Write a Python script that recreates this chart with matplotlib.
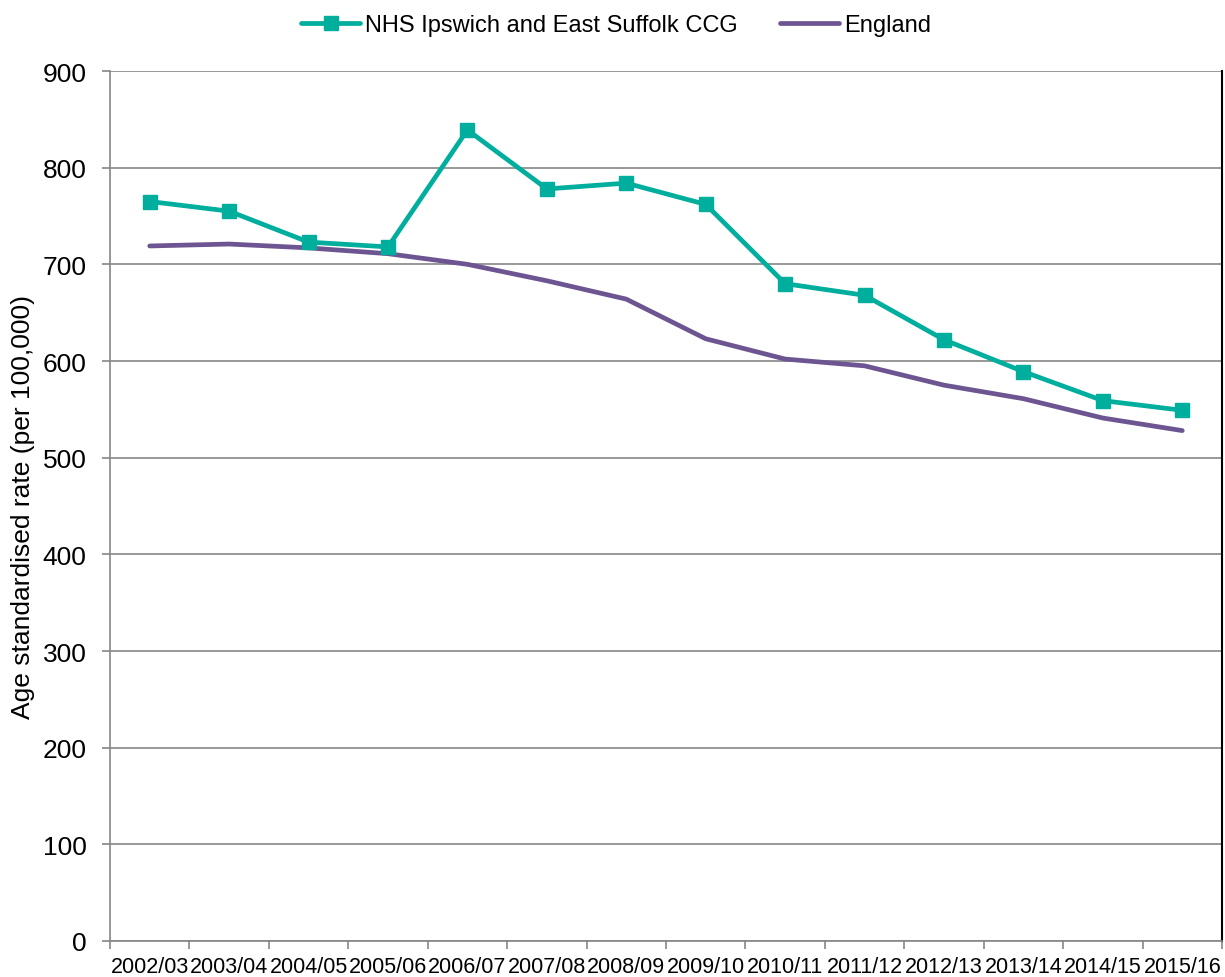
import numpy as np
import matplotlib.pyplot as plt

plt.rcParams['font.family'] = ['Liberation Sans', 'DejaVu Sans']

years = ['2002/03', '2003/04', '2004/05', '2005/06', '2006/07', '2007/08', '2008/09',
         '2009/10', '2010/11', '2011/12', '2012/13', '2013/14', '2014/15', '2015/16']
ccg = [765, 755, 723, 718, 839, 778, 784, 762, 680, 668, 622, 589, 559, 549]
england = [719, 721, 717, 711, 700, 683, 664, 623, 602, 595, 575, 561, 541, 528]

teal = '#00AE9D'
purple = '#6C5591'
grey = '#868686'

fig = plt.figure(figsize=(12.25, 9.78), dpi=100)
ax = fig.add_axes([110/1225, 36/978, 1112/1225, 870/978])

x = np.arange(len(years))
ax.plot(x, ccg, color=teal, lw=3.4, marker='s', ms=10, label='NHS Ipswich and East Suffolk CCG',
        solid_capstyle='round', zorder=3)
ax.plot(x, england, color=purple, lw=3.4, label='England', solid_capstyle='round', zorder=2)

ax.set_xlim(-0.5, len(years) - 0.5)
ax.set_ylim(0, 900)
ax.set_yticks(range(0, 901, 100))
ax.yaxis.grid(True, color=grey, lw=1.2)
ax.set_axisbelow(True)

ax.set_xticks(np.arange(-0.5, len(years)), labels=[])
ax.set_xticks(x, labels=years, minor=True)
ax.tick_params(axis='x', which='major', length=6, width=1.2, color=grey)
ax.tick_params(axis='x', which='minor', length=0, labelsize=15.5, pad=11)
ax.tick_params(axis='y', length=6, width=1.2, color=grey, labelsize=19, pad=11)

for s in ['left', 'bottom']:
    ax.spines[s].set_color(grey)
    ax.spines[s].set_linewidth(1.2)
ax.spines['top'].set_visible(False)
ax.spines['right'].set_color('black')
ax.spines['right'].set_linewidth(1.5)

ax.set_ylabel('Age standardised rate (per 100,000)', fontsize=19)
ax.yaxis.set_label_coords(-0.067, 0.5)

ax.legend(loc='center', bbox_to_anchor=(0.455, 1.053), ncol=2, frameon=False,
          fontsize=17, handlelength=2.5, columnspacing=1.8, handletextpad=0.2)

fig.savefig('out.png', dpi=100)
